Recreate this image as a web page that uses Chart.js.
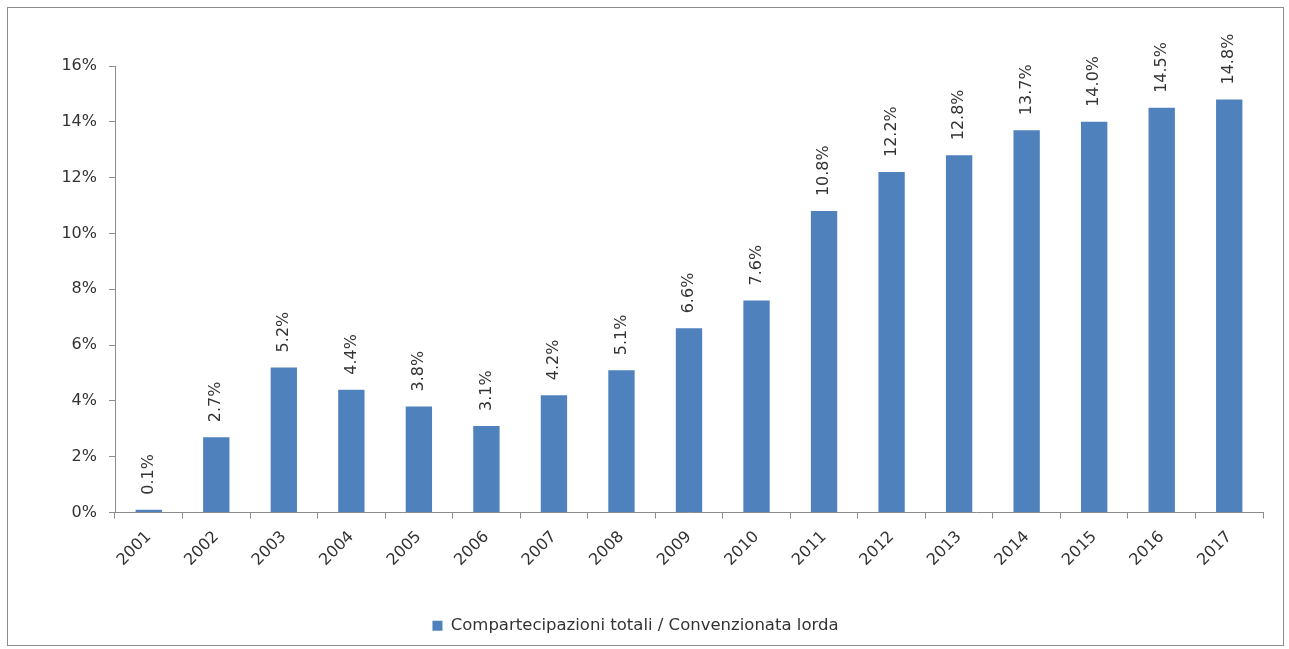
<!DOCTYPE html>
<html>
<head>
<meta charset="utf-8">
<script src="https://cdn.jsdelivr.net/npm/chart.js@4/dist/chart.umd.min.js"></script>
<style>
  body { margin: 0; background: #fff; }
  #box { position: absolute; left: 7px; top: 7px; width: 1275px; height: 637px; border: 1px solid #8c8c8c; }
</style>
</head>
<body>
<div id="box"><canvas id="quota_chart" width="1275" height="637"></canvas></div>
<script>
var years = ['2001', '2002', '2003', '2004', '2005', '2006', '2007', '2008', '2009',
             '2010', '2011', '2012', '2013', '2014', '2015', '2016', '2017'];
var quota = [0.1, 2.7, 5.2, 4.4, 3.8, 3.1, 4.2, 5.1, 6.6, 7.6, 10.8, 12.2, 12.8, 13.7, 14.0, 14.5, 14.8];
var series_name = 'Compartecipazioni totali / Convenzionata lorda';

var text_color = '#333333';
var axis_color = '#8c8c8c';
var bar_color = '#4f81bd';

// vertical value labels above each bar
var barLabels = {
  id: 'barLabels',
  afterDatasetsDraw: function(chart) {
    var ctx = chart.ctx;
    var meta = chart.getDatasetMeta(0);
    ctx.save();
    ctx.font = '16px "DejaVu Sans"';
    ctx.fillStyle = text_color;
    ctx.textAlign = 'left';
    ctx.textBaseline = 'middle';
    for (var i = 0; i < meta.data.length; i++) {
      var bar = meta.data[i];
      ctx.save();
      ctx.translate(bar.x, bar.y - 15);
      ctx.rotate(-Math.PI / 2);
      ctx.fillText(quota[i].toFixed(1) + '%', 0, 0);
      ctx.restore();
    }
    ctx.restore();
  }
};

var ctx = document.getElementById('quota_chart').getContext('2d');
new Chart(ctx, {
  type: 'bar',
  data: {
    labels: years,
    datasets: [{
      label: series_name,
      data: quota,
      backgroundColor: bar_color,
      barPercentage: 0.39,
      categoryPercentage: 1.0
    }]
  },
  options: {
    responsive: false,
    animation: false,
    layout: { padding: { left: 0, right: 20, top: 58, bottom: 1 } },
    plugins: {
      tooltip: { enabled: false },
      legend: {
        position: 'bottom',
        labels: {
          color: text_color,
          font: { family: 'DejaVu Sans', size: 16.5 },
          boxWidth: 10,
          boxHeight: 10,
          padding: 8
        }
      }
    },
    scales: {
      x: {
        offset: true,
        afterFit: function(scale) { scale.height = 97; },
        grid: { offset: true, drawOnChartArea: false, drawTicks: true, tickLength: 6, color: axis_color },
        border: { color: axis_color, width: 1 },
        ticks: {
          color: text_color,
          font: { family: 'DejaVu Sans', size: 16 },
          maxRotation: 45,
          minRotation: 45,
          padding: 9
        }
      },
      y: {
        min: 0,
        max: 16,
        afterFit: function(scale) { scale.width = 107; },
        grid: { drawOnChartArea: false, drawTicks: true, tickLength: 6, color: axis_color },
        border: { color: axis_color, width: 1 },
        ticks: {
          stepSize: 2,
          color: text_color,
          font: { family: 'DejaVu Sans', size: 16 },
          padding: 12,
          callback: function(v) { return v + '%'; }
        }
      }
    }
  },
  plugins: [barLabels]
});
</script>
</body>
</html>
